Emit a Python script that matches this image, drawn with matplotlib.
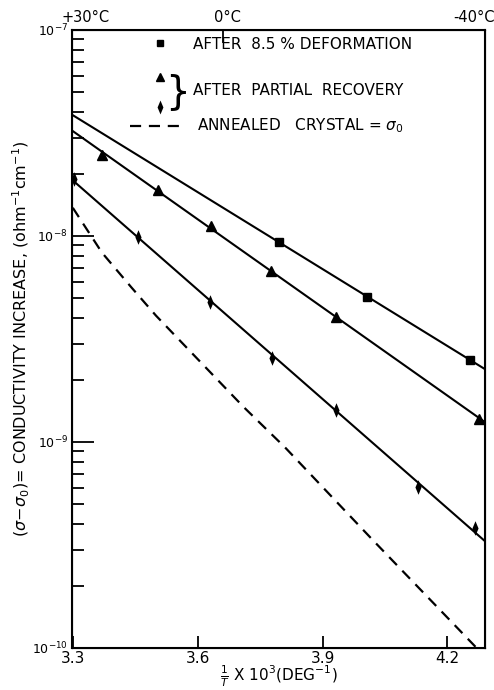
import numpy as np
import matplotlib
matplotlib.use("Agg")
import matplotlib.pyplot as plt
from matplotlib.transforms import ScaledTranslation

# values (x = 1/T * 10^3, y = conductivity increase)
x_deformed = [3.795, 4.007, 4.255]
y_deformed = [9.35e-9, 5.06e-9, 2.50e-9]

x_recov_a = [3.371, 3.505, 3.631, 3.776, 3.933, 4.276]
y_recov_a = [2.47e-8, 1.67e-8, 1.12e-8, 6.76e-9, 4.05e-9, 1.29e-9]

x_recov_b = [3.302, 3.457, 3.629, 3.779, 3.933, 4.129, 4.267]
y_recov_b = [1.89e-8, 9.9e-9, 4.79e-9, 2.56e-9, 1.43e-9, 6.05e-10, 3.83e-10]

x_annealed = [3.30, 3.37, 3.44, 3.50, 3.71, 3.81, 4.02, 4.27]
y_annealed = [1.37e-8, 8.3e-9, 5.65e-9, 4.1e-9, 1.48e-9, 9.4e-10, 3.35e-10, 1.0e-10]

temps_c = [30, 0, -40]
temp_labels = ["+30°C", "0°C", "-40°C"]
x_ticks = [3.3, 3.6, 3.9, 4.2]

plt.rcParams['font.family'] = ['DejaVu Sans']
plt.rcParams['mathtext.fontset'] = 'dejavusans'

# thin tall diamond like the hand-drawn one
thin_diamond = [(0, 1), (0.42, 0), (0, -1), (-0.42, 0), (0, 1)]

fig = plt.figure(figsize=(4.94, 6.9), dpi=100)
ax = fig.add_axes([0.1457, 0.0609, 0.836, 0.8957])

x_lo, x_hi = 3.298, 4.29
xs = np.array([x_lo, x_hi])

# straight fitted lines (in log space) through each set of points
for xd, yd in [(x_deformed, y_deformed), (x_recov_a, y_recov_a), (x_recov_b, y_recov_b)]:
    k, b = np.polyfit(xd, np.log10(yd), 1)
    ax.plot(xs, 10 ** (k * xs + b), color='black', lw=1.5)

ax.plot(x_deformed, y_deformed, 's', color='black', ms=6)
ax.plot(x_recov_a, y_recov_a, '^', color='black', ms=7)
ax.plot(x_recov_b, y_recov_b, marker=thin_diamond, ls='none', color='black', ms=10.5,
        markeredgewidth=0)
ax.plot(x_annealed, y_annealed, '--', color='black', lw=1.6, dashes=(5, 3.5))

ax.set_yscale('log')
ax.set_xlim(x_lo, x_hi)
ax.set_ylim(1e-10, 1e-7)
ax.set_xticks(x_ticks)
ax.set_xticklabels([f"{v:.1f}" for v in x_ticks])
ax.tick_params(axis='x', direction='in', length=9, width=1.3, labelsize=11, pad=2)
ax.tick_params(axis='y', which='major', direction='in', length=16, width=1.3, labelsize=9, pad=3)
ax.tick_params(axis='y', which='minor', direction='in', length=8.5, width=1.3)
for s in ax.spines.values():
    s.set_linewidth(1.5)

ax.set_ylabel(r"$(\sigma\!-\!\sigma_0)$= CONDUCTIVITY INCREASE, (ohm$^{-1}$cm$^{-1}$)",
              fontsize=11.5)
ax.yaxis.set_label_coords(-0.098, 0.5)
ax.set_xlabel(r"$\frac{1}{T}$ X 10$^3$(DEG$^{-1}$)", fontsize=11, va='bottom')
ax.xaxis.set_label_coords(0.5, -0.066)

# top axis in degrees C
ax2 = ax.twiny()
ax2.set_xlim(x_lo, x_hi)
ax2.set_xticks([1000.0 / (t + 273.15) for t in temps_c])
ax2.set_xticklabels(temp_labels)
ax2.tick_params(axis='x', direction='in', length=9, width=1.3, labelsize=10.5, pad=2)
top_lbls = ax2.get_xticklabels()
shifts = [0.13, 0.04, -0.11]
for lbl, dx in zip(top_lbls, shifts):
    lbl.set_transform(lbl.get_transform() + ScaledTranslation(dx, 0.02, fig.dpi_scale_trans))

# hand-made key
ax.plot([0.213], [0.979], 's', color='black', ms=5, transform=ax.transAxes, clip_on=False)
ax.text(0.293, 0.977, "AFTER  8.5 % DEFORMATION", transform=ax.transAxes, fontsize=11, va='center')
ax.plot([0.213], [0.924], '^', color='black', ms=6, transform=ax.transAxes)
ax.plot([0.213], [0.875], marker=thin_diamond, color='black', ms=10, markeredgewidth=0,
        transform=ax.transAxes)
ax.text(0.255, 0.900, "}", transform=ax.transAxes, fontsize=28, va='center', ha='center')
ax.text(0.293, 0.902, "AFTER  PARTIAL  RECOVERY", transform=ax.transAxes, fontsize=11, va='center')
ax.plot([0.140, 0.262], [0.845, 0.845], '--', color='black', lw=1.6, dashes=(5, 3.5),
        transform=ax.transAxes)
ax.text(0.303, 0.845, r"ANNEALED   CRYSTAL = $\sigma_0$", transform=ax.transAxes,
        fontsize=11, va='center')

fig.savefig("out.png", dpi=100)
